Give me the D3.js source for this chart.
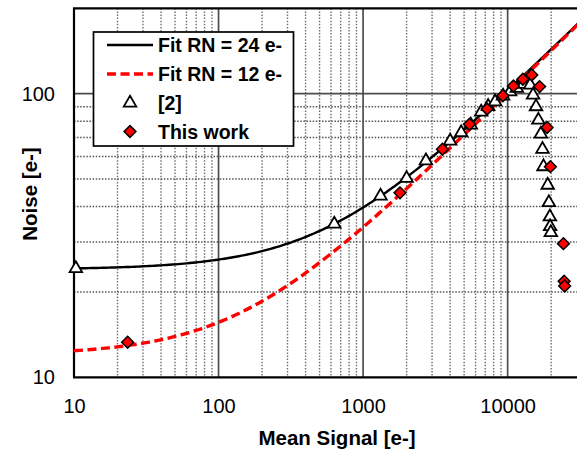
<!DOCTYPE html>
<html>
<head>
<meta charset="utf-8">
<script src="https://cdn.jsdelivr.net/npm/d3@7"></script>
<style>
  html, body { margin: 0; padding: 0; background: #fff; }
  svg { display: block; font-family: "Liberation Sans", Arial, sans-serif; }
</style>
</head>
<body>
<svg id="chart" width="577" height="450"></svg>
<script>
// Read noise of the two shot-noise fits, N = sqrt(RN^2 + S)
const fitReadNoise = [24, 12];
const fitLabels = ["Fit RN = 24 e-", "Fit RN = 12 e-"];

// Reference data [2]: mean signal [e-] and noise [e-]
const refSignal = [10.3, 632, 1320, 2000, 2720, 4000, 4770, 5560, 6560, 7330, 8190, 9300,
  10400, 11580, 12800, 14320, 15000, 15720, 16320, 16970, 17420, 17710, 18930, 19290,
  19600, 19680, 19900];
const refNoise = [24.2, 34.7, 43.6, 50.3, 58.0, 68.1, 72.9, 77.6, 86.2, 90.2, 93.7, 98.2,
  101.6, 104.5, 108, 107.3, 98.9, 90.0, 80.7, 72.1, 63.7, 55.3, 47.6, 41.3,
  36.8, 34.0, 32.4];

// This work: mean signal [e-] and noise [e-]
const workSignal = [23.5, 1800, 3540, 5445, 7210, 9270, 10970, 12740, 14690, 16630,
  18750, 19770, 24320, 24600, 24800];
const workNoise = [13.3, 44.7, 63.7, 78.0, 88.3, 98.4, 106.4, 112.5, 116.4, 105.9,
  76.0, 55.3, 29.6, 21.8, 21.0];

// Axis ticks
const xMajorTicks = [10, 100, 1000, 10000];
const xMinorTicks = [20, 30, 40, 50, 60, 70, 80, 90, 200, 300, 400, 500, 600, 700, 800, 900,
  2000, 3000, 4000, 5000, 6000, 7000, 8000, 9000, 20000];
const yMajorTicks = [10, 100];
const yMinorTicks = [20, 30, 40, 50, 60, 70, 80, 90];

const svg = d3.select("#chart");
const plotLeft = 74, plotRight = 576.6, plotTop = 8.3, plotBottom = 377.3;

const x = d3.scaleLog().domain([10, 30000]).range([plotLeft, plotRight]);
const y = d3.scaleLog().domain([10, 200]).range([plotBottom, plotTop]);

// lines are clipped to the plot; markers may overhang the left axis
svg.append("defs").append("clipPath").attr("id", "plot-clip")
  .append("rect").attr("x", plotLeft).attr("y", plotTop)
  .attr("width", 600).attr("height", plotBottom - plotTop);
svg.select("defs").append("clipPath").attr("id", "marker-clip")
  .append("rect").attr("x", plotLeft - 12).attr("y", plotTop)
  .attr("width", 620).attr("height", plotBottom - plotTop);

const grid = svg.append("g");
// minor grid (dotted)
grid.selectAll(".vminor").data(xMinorTicks).join("line")
  .attr("x1", d => x(d)).attr("x2", d => x(d)).attr("y1", plotTop).attr("y2", plotBottom)
  .attr("stroke", "#6e6e6e").attr("stroke-width", 1.4).attr("stroke-dasharray", "1.5,1.6");
grid.selectAll(".hminor").data(yMinorTicks).join("line")
  .attr("x1", plotLeft).attr("x2", 577).attr("y1", d => y(d)).attr("y2", d => y(d))
  .attr("stroke", "#555").attr("stroke-width", 1.5).attr("stroke-dasharray", "1.5,1.6");
// major grid (solid)
grid.selectAll(".vmajor").data(xMajorTicks.slice(1)).join("line")
  .attr("x1", d => x(d)).attr("x2", d => x(d)).attr("y1", plotTop).attr("y2", plotBottom)
  .attr("stroke", "#4d4d4d").attr("stroke-width", 1.7);
grid.selectAll(".hmajor").data(yMajorTicks.slice(1)).join("line")
  .attr("x1", plotLeft).attr("x2", 577).attr("y1", d => y(d)).attr("y2", d => y(d))
  .attr("stroke", "#4d4d4d").attr("stroke-width", 1.7);

// axis frame (left, bottom, top)
const frame = svg.append("g").attr("stroke", "#000").attr("stroke-width", 2.2);
frame.append("line").attr("x1", plotLeft).attr("x2", plotLeft).attr("y1", plotTop).attr("y2", plotBottom);
frame.append("line").attr("x1", plotLeft - 1).attr("x2", 580).attr("y1", plotBottom).attr("y2", plotBottom);
frame.append("line").attr("x1", plotLeft - 1).attr("x2", 580).attr("y1", plotTop).attr("y2", plotTop);

// axes with tick labels only
const xAxis = d3.axisBottom(x).tickValues(xMajorTicks).tickFormat(d3.format("d")).tickSize(0).tickPadding(22);
svg.append("g").attr("transform", `translate(0,${plotBottom})`).call(xAxis)
  .call(g => g.select(".domain").remove())
  .selectAll("text").attr("font-size", 20).attr("fill", "#000")
  .attr("font-family", "'Liberation Sans', Arial, sans-serif");

const yAxis = d3.axisLeft(y).tickValues(yMajorTicks).tickFormat(d3.format("d")).tickSize(0).tickPadding(19);
svg.append("g").attr("transform", `translate(${plotLeft},0)`).call(yAxis)
  .call(g => g.select(".domain").remove())
  .selectAll("text").attr("font-size", 20).attr("fill", "#000")
  .attr("font-family", "'Liberation Sans', Arial, sans-serif");

// axis titles
svg.append("text").attr("x", 337).attr("y", 445).attr("text-anchor", "middle")
  .attr("font-size", 20.5).attr("font-weight", "bold").text("Mean Signal [e-]");
svg.append("text").attr("transform", "translate(37,194) rotate(-90)").attr("text-anchor", "middle")
  .attr("font-size", 20.5).attr("font-weight", "bold").text("Noise [e-]");

// fit curves
const fitSignal = d3.range(1, 4.7, 0.02).map(e => Math.pow(10, e));
const fitLine = rn => d3.line()
  .x(s => x(s))
  .y(s => y(Math.sqrt(rn * rn + s)))(fitSignal);

const plot = svg.append("g").attr("clip-path", "url(#plot-clip)");
plot.append("path").attr("d", fitLine(fitReadNoise[0]))
  .attr("fill", "none").attr("stroke", "#000").attr("stroke-width", 2.4);
plot.append("path").attr("d", fitLine(fitReadNoise[1]))
  .attr("fill", "none").attr("stroke", "#ff0000").attr("stroke-width", 3.4)
  .attr("stroke-dasharray", "9,4.5");

// markers
const tri = d3.symbol().type(d3.symbolTriangle).size(68);
const dia = d3.symbol().type(d3.symbolSquare).size(70);

const marks = svg.append("g").attr("clip-path", "url(#marker-clip)");
marks.selectAll(".ref").data(refSignal).join("path")
  .attr("d", tri)
  .attr("transform", (d, i) => `translate(${x(d)},${y(refNoise[i])})`)
  .attr("fill", "#fff").attr("stroke", "#000").attr("stroke-width", 1.8);

marks.selectAll(".work").data(workSignal).join("path")
  .attr("d", dia)
  .attr("transform", (d, i) => `translate(${x(d)},${y(workNoise[i])}) rotate(45)`)
  .attr("fill", "#ff0000").attr("stroke", "#000").attr("stroke-width", 1.5);

// legend
const lg = svg.append("g");
lg.append("rect").attr("x", 93.5).attr("y", 32).attr("width", 200).attr("height", 114)
  .attr("fill", "#fff").attr("stroke", "#000").attr("stroke-width", 1.7);
const rowY = [45, 74, 103, 131.5];
lg.append("line").attr("x1", 107).attr("x2", 153).attr("y1", rowY[0]).attr("y2", rowY[0])
  .attr("stroke", "#000").attr("stroke-width", 2.4);
lg.append("line").attr("x1", 107).attr("x2", 153).attr("y1", rowY[1]).attr("y2", rowY[1])
  .attr("stroke", "#ff0000").attr("stroke-width", 3.4).attr("stroke-dasharray", "9,4.5");
lg.append("path").attr("d", tri).attr("transform", `translate(130,${rowY[2]})`)
  .attr("fill", "#fff").attr("stroke", "#000").attr("stroke-width", 1.8);
lg.append("path").attr("d", dia).attr("transform", `translate(130,${rowY[3]}) rotate(45)`)
  .attr("fill", "#ff0000").attr("stroke", "#000").attr("stroke-width", 1.5);
const legendTexts = [fitLabels[0], fitLabels[1], "[2]", "This work"];
lg.selectAll(".lt").data(legendTexts).join("text")
  .attr("x", 158).attr("y", (d, i) => rowY[i]).attr("dy", "0.36em")
  .attr("font-size", 19.5).attr("font-weight", "bold").text(d => d);
</script>
</body>
</html>
